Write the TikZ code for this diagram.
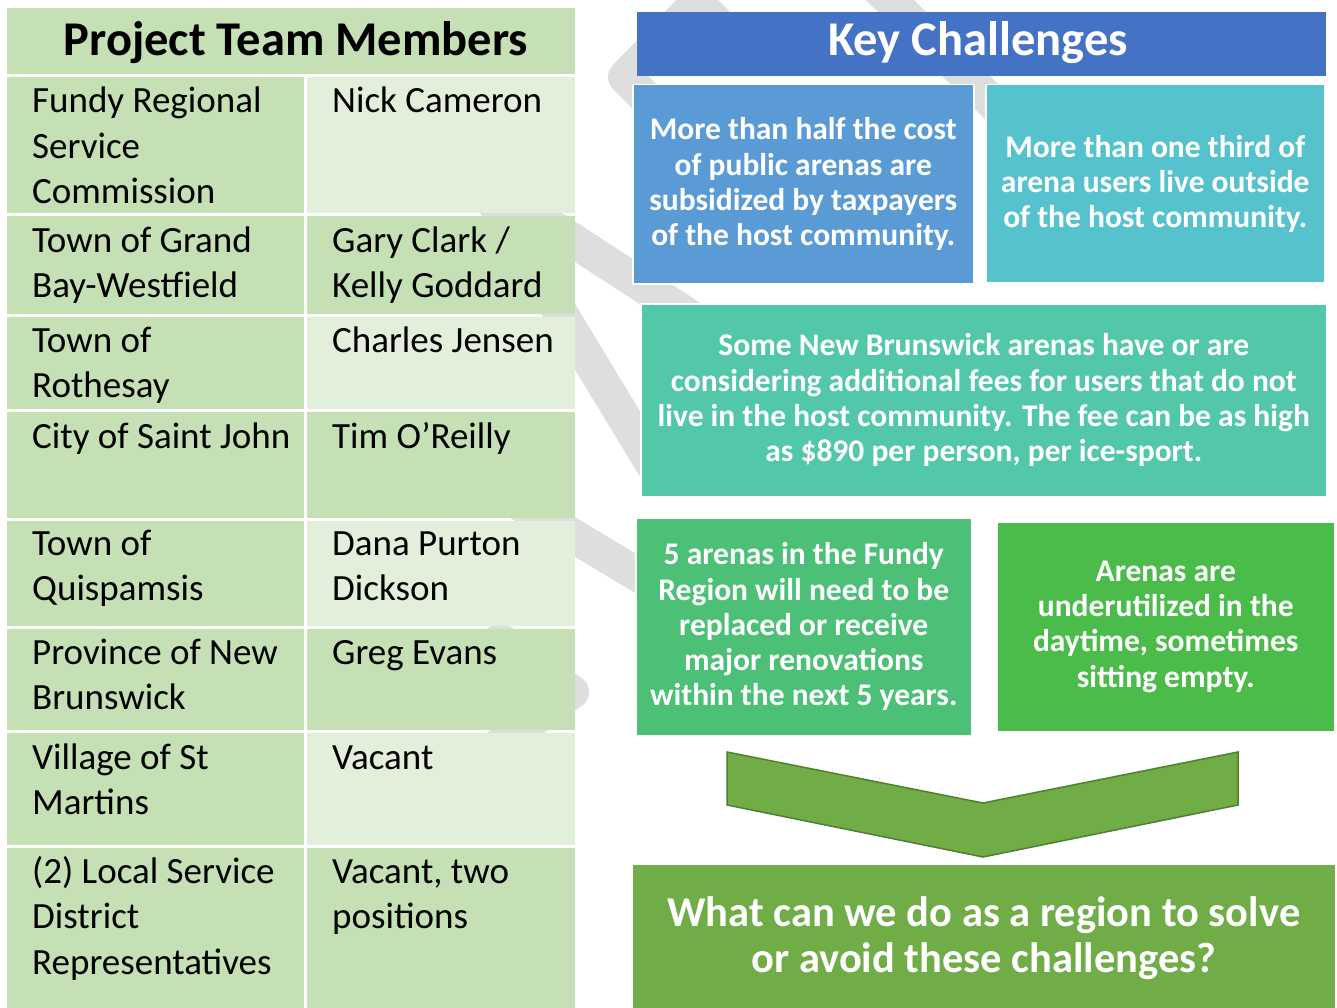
\documentclass[tikz,border=0pt]{standalone}
\usepackage{fontspec}
\setmainfont{Carlito}
\definecolor{dk}{HTML}{C5E0B4}
\definecolor{lt}{HTML}{E2EFDA}
\definecolor{bgg}{HTML}{DEDEDE}
\definecolor{hdr}{HTML}{4472C4}
\definecolor{cA}{HTML}{5B9BD5}
\definecolor{cB}{HTML}{56C2CE}
\definecolor{cC}{HTML}{52C7A9}
\definecolor{cD}{HTML}{4DC078}
\definecolor{cE}{HTML}{4BBB4A}
\definecolor{cF}{HTML}{70AD47}
\definecolor{cFd}{HTML}{507E32}
\begin{document}
\begin{tikzpicture}[x=1pt,y=-1pt,
 band/.style={draw=bgg,line width=34pt,line join=round,line cap=round},
 celltxt/.style={anchor=base west,inner sep=0pt,align=left,font=\fontsize{37}{45.5}\selectfont},
 boxstyle/.style={draw=white,line width=1.5pt,anchor=north west,text=white,align=center,inner sep=0pt,font=\fontsize{31.5}{35.3}\selectfont\bfseries},
 chev/.style={fill=cF,draw=cFd,line width=1.5pt,line join=miter}]
\useasboundingbox[fill=white] (0,0) rectangle (1337,1008);
% faint background shape
\draw[band] (730,36) -- (697,3) -- (625,77) -- (700,152);
\draw[band] (860,-30) -- (1010,120);
\draw[band] (700,323) -- (480,180) -- (660,477);
\draw[band] (500,492) -- (700,612);
\draw[band] (500,640) -- (572,692) -- (500,744);
% table backgrounds
\fill[dk] (7,8) rectangle (575,74);
\fill[dk] (7,77) rectangle (304,213);   \fill[lt] (307,77) rectangle (575,213);
\fill[dk] (7,216) rectangle (304,314);  \fill[dk] (307,216) rectangle (575,314);
\fill[dk] (7,317) rectangle (304,409);  \fill[lt] (307,317) rectangle (575,409);
\fill[dk] (7,412) rectangle (304,518);  \fill[dk] (307,412) rectangle (575,518);
\fill[dk] (7,521) rectangle (304,626);  \fill[lt] (307,521) rectangle (575,626);
\fill[dk] (7,629) rectangle (304,730);  \fill[dk] (307,629) rectangle (575,730);
\fill[dk] (7,733) rectangle (304,845);  \fill[lt] (307,733) rectangle (575,845);
\fill[dk] (7,848) rectangle (304,1008); \fill[dk] (307,848) rectangle (575,1008);
% table texts (anchor = baseline of the last line)
\node[anchor=base,inner sep=0pt,font=\fontsize{48.5}{56}\selectfont\bfseries] (ptm) at (296,56) {Project Team Members};
\node[celltxt] (a1) at (32,204) {Fundy Regional\\Service\\Commission};
\node[celltxt] (b1) at (332,113) {Nick Cameron};
\node[celltxt] (a2) at (32,297.5) {Town of Grand\\Bay-Westfield};
\node[celltxt] (b2) at (332,297.5) {Gary Clark /\\Kelly Goddard};
\node[celltxt] (a3) at (32,397.5) {Town of\\Rothesay};
\node[celltxt] (b3) at (332,352) {Charles Jensen};
\node[celltxt] (a4) at (32,448) {City of Saint John};
\node[celltxt] (b4) at (332,448) {Tim O’Reilly};
\node[celltxt] (a5) at (32,600.5) {Town of\\Quispamsis};
\node[celltxt] (b5) at (332,600.5) {Dana Purton\\Dickson};
\node[celltxt] (a6) at (32,709.5) {Province of New\\Brunswick};
\node[celltxt] (b6) at (332,664) {Greg Evans};
\node[celltxt] (a7) at (32,814.5) {Village of St\\Martins};
\node[celltxt] (b7) at (332,769) {Vacant};
\node[celltxt] (a8) at (32,974) {(2) Local Service\\District\\Representatives};
\node[celltxt] (b8) at (332,928.5) {Vacant, two\\positions};
% key challenges
\fill[hdr] (637,12) rectangle (1326,76);
\node[anchor=base,inner sep=0pt,text=white,font=\fontsize{48.5}{56}\selectfont\bfseries] (kc) at (978,56) {Key Challenges};
\node[boxstyle,fill=cA,minimum width=341pt,minimum height=199pt] (c1) at (632,84)
 {More than half the cost\\of public arenas are\\subsidized by taxpayers\\of the host community.};
\node[boxstyle,fill=cB,minimum width=339pt,minimum height=198pt] (c2) at (985,84)
 {More than one third of\\arena users live outside\\of the host community.};
\node[boxstyle,fill=cC,minimum width=686pt,minimum height=193pt] (c3) at (640,303)
 {Some New Brunswick arenas have or are\\considering additional fees for users that do not\\live in the host community. The fee can be as high\\as \$890 per person, per ice-sport.};
\node[boxstyle,fill=cD,minimum width=336pt,minimum height=218pt] (c4) at (635,517)
 {5 arenas in the Fundy\\Region will need to be\\replaced or receive\\major renovations\\within the next 5 years.};
\node[boxstyle,fill=cE,minimum width=338pt,minimum height=210pt] (c5) at (996,521)
 {Arenas are\\underutilized in the\\daytime, sometimes\\sitting empty.};
% chevron
\draw[chev] (727,752) -- (983,803) -- (1238,752) -- (1238,805) -- (983,857) -- (727,805) -- cycle;
\node[boxstyle,draw=none,fill=cF,minimum width=702pt,minimum height=146pt,font=\fontsize{42.5}{46}\selectfont\bfseries] (q) at (632,864)
 {What can we do as a region to solve\\or avoid these challenges?};
\end{tikzpicture}
\end{document}
